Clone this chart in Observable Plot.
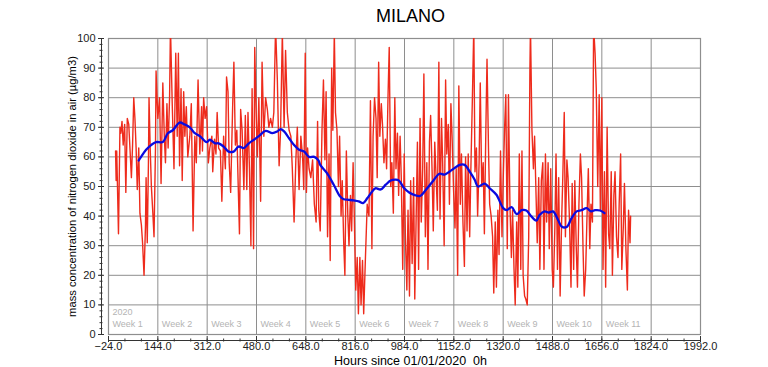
<!DOCTYPE html>
<html><head><meta charset="utf-8">
<script src="https://cdn.jsdelivr.net/npm/d3@7"></script>
<script src="https://cdn.jsdelivr.net/npm/@observablehq/plot@0.6"></script>
<style>body{margin:0;background:#fff} svg{display:block}</style>
</head><body><div id="chart"></div>
<script>
// Hourly NO2 readings (hour since 01/01/2020 0h, µg/m3)
const redSeries = [
[0,62],[2,52],[4,62],[10,34],[15,70],[18,68],[22,72],[26,64],[31,71],[35,48],[40,73],[45,71],[49,63],[54,53],[58,64],[62,80],[66,73],[70,63],[74,49],[79,63],[83,41],[88,37],[92,31],[97,20],[102,37],[104,53],[108,31],[112,58],[114,80],[118,63],[122,50],[127,41],[131,33],[136,63],[138,89],[144,73],[150,80],[155,51],[161,85],[166,67],[170,58],[175,78],[179,63],[184,80],[187,104],[193,78],[199,56],[205,95],[210,67],[214,95],[218,57],[223,83],[227,52],[232,82],[236,67],[241,77],[246,60],[253,67],[258,78],[264,35],[270,67],[275,58],[281,86],[287,61],[293,77],[296,62],[300,80],[305,73],[310,77],[316,58],[321,63],
[328,67],[331,55],[337,66],[342,61],[346,75],[351,63],[357,62],[362,45],[368,67],[374,56],[378,87],[383,82],[387,58],[392,48],[399,78],[403,92],[408,64],[413,69],[417,53],[422,34],[426,76],[431,69],[437,49],[442,74],[447,49],[451,75],[456,56],[461,30],[465,83],[470,29],[474,97],[479,74],[483,60],[488,80],[494,45],[499,92],[505,67],[511,80],[517,76],[522,70],[528,73],[534,70],[539,75],[545,104],[551,86],[557,57],[562,69],[568,102],[574,70],[579,96],[585,75],[591,69],[597,67],[602,56],[608,38],[614,59],[619,70],[625,49],[631,67],[637,60],[641,49],[646,95],[650,48],[654,63],[659,56],[665,53],[671,59],[677,44],
[683,38],[688,72],[692,42],[697,35],[703,69],[708,86],[713,59],[717,82],[722,33],[727,61],[731,25],[736,90],[740,69],[745,102],[749,75],[754,69],[759,50],[763,67],[768,40],[772,52],[777,31],[781,20],[786,62],[791,40],[795,30],[800,47],[804,35],[809,58],[813,40],[818,15],[823,26],[827,7],[832,26],[836,10],[841,25],[845,7],[851,26],[857,44],[863,40],[868,79],[873,29],[877,67],[882,80],[887,73],[891,53],[896,92],[900,67],[905,78],[909,71],[914,58],[919,66],[923,56],[928,81],[932,97],[937,50],[941,58],[946,41],[951,80],[955,56],[960,68],[964,47],[969,67],[973,53],[978,22],[983,61],[987,33],[992,15],[996,42],[1001,13],[1005,52],[1010,24],[1015,53],[1019,12],
[1028,65],[1032,22],[1037,73],[1041,38],[1046,56],[1050,88],[1055,33],[1060,58],[1064,22],[1069,65],[1073,74],[1078,55],[1082,35],[1087,65],[1092,52],[1096,42],[1101,92],[1105,39],[1110,73],[1114,58],[1119,30],[1124,86],[1128,61],[1133,71],[1137,44],[1142,78],[1146,67],[1151,49],[1156,36],[1160,56],[1165,20],[1169,84],[1174,44],[1178,61],[1183,38],[1188,23],[1192,60],[1197,35],[1201,61],[1206,33],[1210,56],[1215,79],[1220,104],[1224,55],[1229,63],[1233,40],[1238,58],[1242,85],[1247,50],[1252,58],[1256,34],[1261,69],[1265,93],[1270,63],[1274,44],[1279,40],[1284,33],[1288,14],[1293,38],[1297,16],[1302,42],[1306,27],[1311,62],[1316,33],[1320,52],[1325,70],[1329,81],[1334,29],[1338,81],[1343,44],[1348,26],[1352,42],[1357,22],[1361,10],[1366,38],[1370,16],[1375,61],[1380,22],
[1384,62],[1388,20],[1393,13],[1397,12],[1402,10],[1407,33],[1411,89],[1413,104],[1418,69],[1423,56],[1427,67],[1432,47],[1436,31],[1441,53],[1445,22],[1450,52],[1455,58],[1459,22],[1464,61],[1468,38],[1473,58],[1477,29],[1482,56],[1487,22],[1491,16],[1496,36],[1500,61],[1505,22],[1509,53],[1514,13],[1519,38],[1523,53],[1528,75],[1532,33],[1537,59],[1541,53],[1546,38],[1551,16],[1555,51],[1560,22],[1564,52],[1569,29],[1573,16],[1578,44],[1583,61],[1587,53],[1592,29],[1596,13],[1601,22],[1605,38],[1610,56],[1615,29],[1619,44],[1624,38],[1628,104],[1633,95],[1637,83],[1642,50],[1647,81],[1651,42],[1656,80],[1660,22],[1665,55],[1669,16],[1674,70],[1679,34],[1683,29],[1688,55],[1692,20],[1697,47],[1701,55],[1706,33],[1711,26],[1715,44],[1720,61],[1724,22],[1729,36],[1733,51],[1738,29],[1743,15],[1747,42],[1752,31],[1754,40]
];
// 7-day moving average (blue)
const avgSeries = [
[79,58.8],[87,60],[104,62.4],[121,64],[138,65],[161,65],[178,68],[195,69],[218,71.6],[235,71],[253,70],[270,68],[287,67],[310,65],[321,65.8],[339,64.6],[351,64.6],[368,63.5],[385,61.8],[402,61.8],[419,63.5],[437,63],[454,64.6],[471,65.8],[488,67],[511,68.8],[534,68],[551,68.6],[562,69.4],[574,68.6],[591,66.3],[608,64],[625,62.4],[642,61.8],[659,60],[677,60],[691,58.8],[697,57.3],[720,54.5],[743,50.6],[765,46.6],[777,45.7],[794,45.5],[811,45.3],[828,45],[843,44.4],[857,46],[874,48.3],[885,49.4],[903,49],[920,50.6],[937,52],[954,52.3],[965,52],[983,49.4],[1000,48],[1017,47.2],[1037,46.8],[1057,48.9],[1080,51.7],[1103,54.3],[1120,54],[1137,55],[1154,56.2],[1172,57.3],[1189,57.3],[1206,55],[1223,52.3],[1234,50],[1257,51],[1274,49.4],[1297,47.2],[1320,42.7],[1332,42],[1349,43],[1366,40.7],[1383,42],[1399,41.9],[1416,39.9],[1433,38.5],[1444,40.4],[1461,41.6],[1475,41.2],[1490,41.6],[1507,38.7],[1519,36.5],[1536,36.3],[1553,39.3],[1570,41.6],[1587,42],[1604,42.7],[1619,41.6],[1633,42],[1650,41.9],[1665,41]
];
const xTicks = d3.range(-24, 1993, 168);
const xMinorTicks = d3.range(-24, 1993, 56);
const yTicks = d3.range(0, 101, 10);
const yMinorTicks = d3.range(0, 101, 2);
const weekLabels = ["Week 1","Week 2","Week 3","Week 4","Week 5","Week 6","Week 7","Week 8","Week 9","Week 10","Week 11"];
const weekStarts = weekLabels.map((_, i) => -24 + 168 * i);
const yearLabel = "2020";
const titleText = "MILANO";
const xLabel = "Hours since 01/01/2020\u00a0\u00a00h";
const yLabel = "mass concentration of nitrogen dioxide in air (\u00b5g/m3)";

const red = redSeries.map(([h, v]) => ({h, v}));
const avg = avgSeries.map(([h, v]) => ({h, v}));
const gridColor = "#8e8e8e";
const axisColor = "#333";

const chart = Plot.plot({
  width: 768, height: 367,
  marginLeft: 108, marginRight: 68, marginTop: 38, marginBottom: 33,
  x: {domain: [-24, 1992], label: null},
  y: {domain: [0, 100], label: null},
  style: {fontFamily: "'Liberation Sans', Arial, sans-serif", background: "#fff", color: "#222"},
  marks: [
    Plot.gridX(xTicks, {stroke: gridColor, strokeOpacity: 1, strokeWidth: 1}),
    Plot.gridY(yTicks, {stroke: gridColor, strokeOpacity: 1, strokeWidth: 1}),
    Plot.frame({stroke: gridColor, strokeWidth: 1.2}),
    Plot.text(weekLabels, {x: (d, i) => weekStarts[i], frameAnchor: "bottom", dy: -8, dx: 4, textAnchor: "start", fill: "#b4b4b4", fontSize: 9}),
    Plot.text([yearLabel], {x: [weekStarts[0]], frameAnchor: "bottom", dy: -20, dx: 4, textAnchor: "start", fill: "#b4b4b4", fontSize: 9}),
    Plot.line(red, {x: "h", y: "v", stroke: "#ee2b1c", strokeWidth: 1.4, clip: true}),
    Plot.line(avg, {x: "h", y: "v", stroke: "#0a0ae0", strokeWidth: 2.3, clip: true, curve: "catmull-rom"}),
    Plot.ruleX([-24], {dx: -7, stroke: axisColor}),
    Plot.ruleY([0], {dy: 6, stroke: axisColor}),
    Plot.axisY(yTicks, {tickSize: 6, dx: -4, tickPadding: 3, fontSize: 11, label: null, stroke: axisColor}),
    Plot.axisY(yMinorTicks, {tickSize: 3, dx: -5.5, tickFormat: () => "", label: null, stroke: axisColor}),
    Plot.axisX(xTicks, {tickSize: 6, dy: 2, tickPadding: 0, fontSize: 11, tickFormat: d3.format(".1f"), label: null, stroke: axisColor}),
    Plot.axisX(xMinorTicks, {tickSize: 3, dy: 4.5, tickFormat: () => "", label: null, stroke: axisColor}),
    Plot.text([xLabel], {frameAnchor: "bottom", dy: 26.5, dx: 6, fontSize: 12.5, fill: "#000", lineAnchor: "middle"}),
    Plot.text([titleText], {frameAnchor: "top", dy: -29, dx: 6, fontSize: 18, fill: "#000", fontFamily: "'Liberation Sans Narrow', 'Liberation Sans', Arial, sans-serif"}),
    Plot.text([yLabel], {frameAnchor: "left", textAnchor: "middle", rotate: -90, dx: -36, fontSize: 11.2, fill: "#000"})
  ]
});
document.getElementById("chart").append(chart);
</script>
</body></html>
